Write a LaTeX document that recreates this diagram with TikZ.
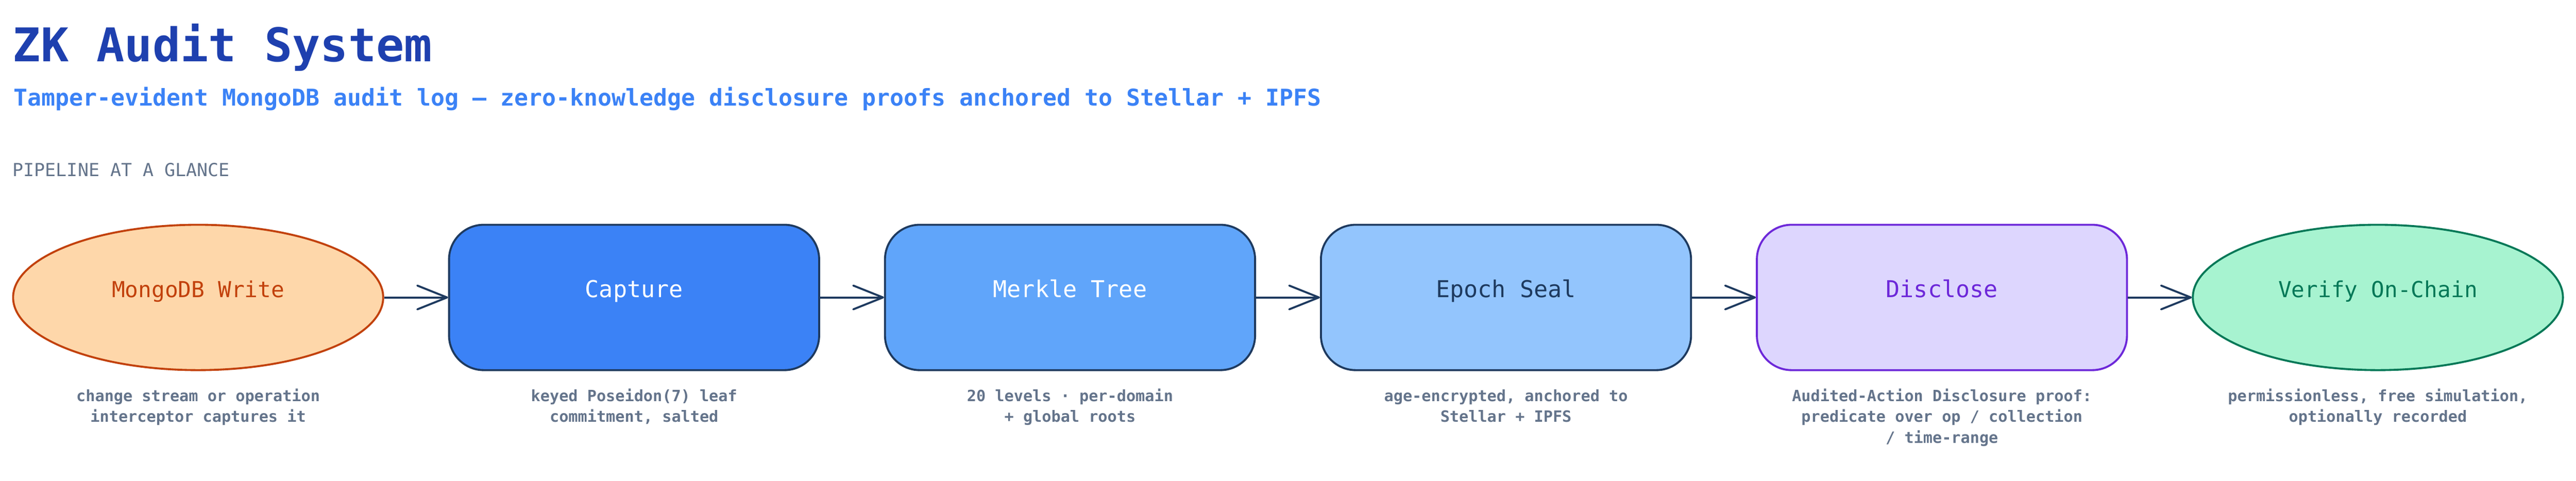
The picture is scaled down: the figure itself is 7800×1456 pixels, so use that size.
\documentclass[tikz,border=0pt]{standalone}
\usepackage{fontspec}
\setmainfont{DejaVu Sans Mono}
\usetikzlibrary{shapes.geometric,arrows.meta}
\definecolor{titleblue}{HTML}{1E40AF}
\definecolor{subblue}{HTML}{3B82F6}
\definecolor{slate}{HTML}{64748B}
\definecolor{navy}{HTML}{1E3A5F}
\definecolor{orangefill}{HTML}{FED7AA}
\definecolor{orangeline}{HTML}{C2410C}
\definecolor{capfill}{HTML}{3B82F6}
\definecolor{merklefill}{HTML}{60A5FA}
\definecolor{epochfill}{HTML}{93C5FD}
\definecolor{violetfill}{HTML}{DDD6FE}
\definecolor{violetline}{HTML}{6D28D9}
\definecolor{greenfill}{HTML}{A7F3D0}
\definecolor{greenline}{HTML}{047857}
\begin{document}
\begin{tikzpicture}[x=0.01cm,y=-0.01cm,
  every node/.style={inner sep=0pt},
  stage/.style={minimum width=11.2cm, minimum height=4.4cm, line width=0.06cm,
    text height=0pt, text depth=0pt, font=\fontsize{20pt}{24pt}\selectfont},
  boxstage/.style={stage, rectangle, rounded corners=1.05cm},
  ovalstage/.style={stage, ellipse, font=\fontsize{19pt}{23pt}\selectfont},
  caption/.style={font=\bfseries\fontsize{13.4pt}{17.9pt}\selectfont, text=slate, align=center, anchor=base},
  flow/.style={draw=navy, line width=0.06cm, -{Straight Barb[length=0.9cm,width=0.72cm,round]}}
]
\fill[white] (0,0) rectangle (7800,1456);
\useasboundingbox (0,0) rectangle (7800,1456);

\node[anchor=base west, font=\bfseries\fontsize{40pt}{48pt}\selectfont, text=titleblue] (title) at (38,186) {ZK Audit System};
\node[anchor=base west, font=\bfseries\fontsize{19.9pt}{24pt}\selectfont, text=subblue] (subtitle) at (40,320) {Tamper-evident MongoDB audit log — zero-knowledge disclosure proofs anchored to Stellar + IPFS};
\node[anchor=base west, font=\fontsize{15.5pt}{19pt}\selectfont, text=slate] (heading) at (38,534) {PIPELINE AT A GLANCE};

\node[ovalstage, fill=orangefill, draw=orangeline, text=orangeline] (write) at (600,901) {MongoDB Write};
\node[boxstage, fill=capfill, draw=navy, text=white] (capture) at (1920,901) {Capture};
\node[boxstage, fill=merklefill, draw=navy, text=white] (merkle) at (3240,901) {Merkle Tree};
\node[boxstage, fill=epochfill, draw=navy, text=navy] (epoch) at (4560,901) {Epoch Seal};
\node[boxstage, fill=violetfill, draw=violetline, text=violetline] (disclose) at (5880,901) {Disclose};
\node[ovalstage, fill=greenfill, draw=greenline, text=greenline] (verify) at (7200,901) {Verify On-Chain};

\draw[flow] (write) -- (capture);
\draw[flow] (capture) -- (merkle);
\draw[flow] (merkle) -- (epoch);
\draw[flow] (epoch) -- (disclose);
\draw[flow] (disclose) -- (verify);

% anchor=base sits on the last line's baseline; first lines at y=1216, line pitch 63
\node[caption] (capwrite) at (600,1279) {change stream or operation\\interceptor captures it};
\node[caption] (capcapture) at (1920,1279) {keyed Poseidon(7) leaf\\commitment, salted};
\node[caption] (capmerkle) at (3240,1279) {20 levels · per-domain\\+ global roots};
\node[caption] (capepoch) at (4560,1279) {age-encrypted, anchored to\\Stellar + IPFS};
\node[caption] (capdisclose) at (5880,1342) {Audited-Action Disclosure proof:\\predicate over op / collection\\/ time-range};
\node[caption] (capverify) at (7200,1279) {permissionless, free simulation,\\optionally recorded};
\end{tikzpicture}
\end{document}
